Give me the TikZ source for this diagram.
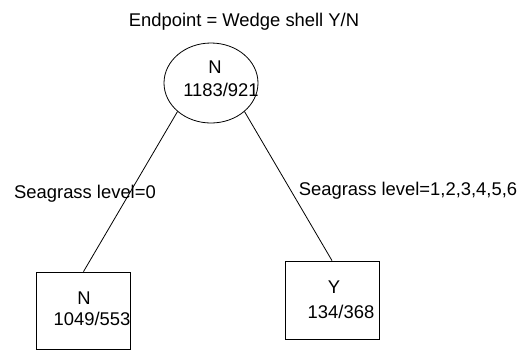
\documentclass[tikz,border=0pt]{standalone}
\usepackage{fontspec}
\setmainfont{Liberation Sans}
\usepackage{tikz}
\usetikzlibrary{shapes.geometric}

\begin{document}
\begin{tikzpicture}[x=0.5pt,y=-0.5pt,font=\fontsize{9.2}{11}\selectfont,
  split/.style={draw,ellipse,minimum width=47pt,minimum height=40pt,inner sep=0pt},
  leaf/.style={draw,rectangle,minimum width=47pt,inner sep=0pt},
  txt/.style={inner sep=0pt,anchor=base}]
  \useasboundingbox (0,0) rectangle (530,350);
  \node[txt] (title) at (244,26) {Endpoint = Wedge shell Y/N};
  % root split
  \node[split] (root) at (211,83) {};
  \node[txt] (rootcls) at (215,73) {N};
  \node[txt] (rootcnt) at (221,96) {1183/921};
  % leaves
  \node[leaf,minimum height=38.5pt] (leafN) at (83.5,310.5) {};
  \node[txt] (leafNcls) at (84,304) {N};
  \node[txt] (leafNcnt) at (92,325) {1049/553};
  \node[leaf,minimum height=39pt] (leafY) at (332,300) {};
  \node[txt] (leafYcls) at (334,293) {Y};
  \node[txt] (leafYcnt) at (341,318) {134/368};
  % branches
  \draw (root.south west) -- (leafN.north);
  \draw (root.south east) -- (leafY.north);
  \node[txt] (lblN) at (85,198) {Seagrass level=0};
  \node[txt] (lblY) at (408,195) {Seagrass level=1,2,3,4,5,6};
\end{tikzpicture}
\end{document}
